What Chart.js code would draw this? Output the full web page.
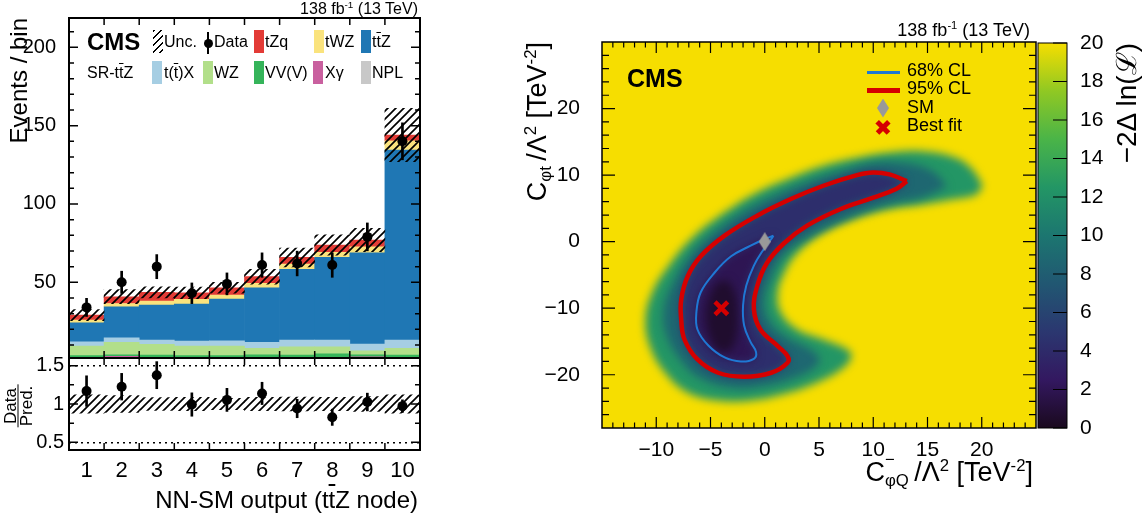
<!DOCTYPE html>
<html>
<head>
<meta charset="utf-8">
<title>CMS ttZ NN-SM output and EFT scan</title>
<script src="https://cdn.jsdelivr.net/npm/chart.js@4.4.1/dist/chart.umd.min.js"></script>
<style>
  body { margin: 0; width: 1146px; height: 521px; position: relative; overflow: hidden; background: #fff;
         font-family: 'Liberation Sans', Arial, Helvetica, sans-serif; color: #000; }
  canvas { position: absolute; }
  .t { position: absolute; white-space: nowrap; line-height: 1; font-size: 16px; }
  .sw { position: absolute; width: 10px; height: 23px; }
  .box { position: absolute; }
  sup, sub { font-size: 0.62em; position: relative; vertical-align: baseline; line-height: 0; }
  sup { top: -0.6em; }
  sub { top: 0.3em; }
  .ob { text-decoration: overline; }
  .rot { position: absolute; width: 400px; text-align: right; transform-origin: 0 0; transform: rotate(-90deg);
         white-space: nowrap; line-height: 1; }
  .frac { position: absolute; left: 18px; top: 406px; transform: translate(-50%, -50%) rotate(-90deg);
          font-size: 17px; text-align: center; white-space: nowrap; }
  .frac div { line-height: 15px; height: 15px; padding: 0 1px; }
</style>
</head>
<body>
<canvas id="mainChart" width="430" height="360" style="left:0;top:0"></canvas>
<canvas id="ratioChart" width="430" height="171" style="left:0;top:350px"></canvas>
<canvas id="scanChart" width="540" height="521" style="left:500px;top:0"></canvas>
<canvas id="zChart" width="116" height="521" style="left:1030px;top:0"></canvas>

<!-- left panel: labels and legend -->
<div class="t" style="right:728px;top:1px">138 fb<sup>-1</sup> (13 TeV)</div>
<div class="t" style="left:87px;top:30px;font-size:24px;font-weight:bold">CMS</div>
<div class="t" style="left:87px;top:65px">SR-t<span class="ob">t</span>Z</div>

<div class="sw" style="left:153px;top:30px;background:repeating-linear-gradient(135deg,#000 0 1.6px,transparent 1.6px 5px)"></div>
<div class="t" style="left:164px;top:34px">Unc.</div>
<div class="box" style="left:207px;top:32px;width:2px;height:22px;background:#000"></div>
<div class="box" style="left:203.5px;top:38.5px;width:9px;height:9px;border-radius:50%;background:#000"></div>
<div class="t" style="left:214px;top:34px">Data</div>
<div class="sw" style="left:254px;top:30px;background:#e33b36"></div>
<div class="t" style="left:265px;top:34px">tZq</div>
<div class="sw" style="left:314px;top:30px;background:#fae37d"></div>
<div class="t" style="left:325px;top:34px">tWZ</div>
<div class="sw" style="left:361px;top:30px;background:#1f77b4"></div>
<div class="t" style="left:372px;top:34px">t<span class="ob">t</span>Z</div>

<div class="sw" style="left:152px;top:61px;background:#a6cee3"></div>
<div class="t" style="left:164px;top:65px">t(<span class="ob">t</span>)X</div>
<div class="sw" style="left:203px;top:61px;background:#b2df8a"></div>
<div class="t" style="left:214px;top:65px">WZ</div>
<div class="sw" style="left:254px;top:61px;background:#35b45a"></div>
<div class="t" style="left:265px;top:65px">VV(V)</div>
<div class="sw" style="left:313px;top:61px;background:#c9609f"></div>
<div class="t" style="left:325px;top:65px">Xγ</div>
<div class="sw" style="left:361px;top:61px;background:#c8c8c8"></div>
<div class="t" style="left:372px;top:65px">NPL</div>

<div class="rot" style="left:7px;top:418px;font-size:24px">Events / bin</div>
<div class="frac">
  <div>Data</div>
  <div style="border-top:1.5px solid #000">Pred.</div>
</div>
<div class="t" style="right:728px;top:488px;font-size:24px">NN-SM output (t<span class="ob">t</span>Z node)</div>

<!-- right panel: labels and legend -->
<div class="t" style="right:116px;top:21px;font-size:18px">138 fb<sup>-1</sup> (13 TeV)</div>
<div class="t" style="left:627px;top:66px;font-size:25px;font-weight:bold">CMS</div>
<div class="box" style="left:867px;top:70.5px;width:33px;height:3px;background:#1f78d4"></div>
<div class="t" style="left:907px;top:60.5px;font-size:18px">68% CL</div>
<div class="box" style="left:867px;top:87.5px;width:33px;height:5px;background:#d50000"></div>
<div class="t" style="left:907px;top:79px;font-size:18px">95% CL</div>
<div class="box" style="left:877px;top:98.5px;width:12px;height:19px;background:#999;clip-path:polygon(50% 0,100% 50%,50% 100%,0 50%)"></div>
<div class="t" style="left:907px;top:97.5px;font-size:18px">SM</div>
<div class="box" style="left:874.5px;top:125px;width:16px;height:4.5px;background:#d50000;transform:rotate(45deg)"></div>
<div class="box" style="left:874.5px;top:125px;width:16px;height:4.5px;background:#d50000;transform:rotate(-45deg)"></div>
<div class="t" style="left:907px;top:115.5px;font-size:18px">Best fit</div>

<div class="rot" style="left:524px;top:442px;font-size:27px">C<sub>φt</sub>&thinsp;/Λ<sup>2</sup> [TeV<sup>-2</sup>]</div>
<div class="t" style="right:113px;top:459px;font-size:27px"><span style="position:relative">C<span style="position:absolute;left:100%;top:-0.3em;font-size:0.62em">&minus;</span></span><sub>φQ</sub>&thinsp;/Λ<sup>2</sup> [TeV<sup>-2</sup>]</div>
<div class="rot" style="left:1113px;top:443px;font-size:28px">&minus;2Δ ln(ℒ)</div>

<script>
// ---- histogram values (events per bin) ----
const bins    = ['1', '2', '3', '4', '5', '6', '7', '8', '9', '10'];
const npl     = [0.9, 1.1, 0.8, 1.0, 0.9, 1.0, 0.8, 1.1, 0.9, 1.0];
const xgamma  = [0.6, 1.6, 0.5, 0.6, 0.5, 0.6, 0.7, 0.6, 1.5, 0.6];
const vvv     = [1.7, 1.0, 2.2, 1.6, 1.8, 2.2, 2.0, 2.6, 1.3, 2.0];
const wz      = [6.1, 8.0, 6.9, 6.1, 6.1, 4.0, 5.4, 4.6, 2.6, 4.2];
const ttx     = [2.8, 2.9, 2.7, 3.2, 3.4, 3.9, 4.2, 4.2, 4.3, 5.3];
const ttz     = [12.1, 19.8, 22.4, 23.6, 26.6, 34.8, 45.2, 52.8, 58.3, 121.3];
const twz     = [1.7, 2.1, 2.5, 3.0, 2.6, 2.8, 3.3, 3.2, 3.8, 5.9];
const tzq     = [3.2, 4.3, 5.6, 4.2, 4.6, 4.3, 4.3, 4.7, 4.3, 3.7];
const obs     = [34, 50, 60, 43, 49, 61, 62, 61, 79, 140];
const obsErr  = [5.8, 7.1, 7.7, 6.6, 7.0, 7.8, 7.9, 7.8, 8.9, 11.8];
const predUnc = [3.5, 4.5, 3.6, 3.7, 3.5, 4.7, 6.0, 6.5, 7.5, 17.0];

// ---- likelihood scan, contours (x = C-phiQ, y = C-phit) ----
const bestFit = [-4.0, -10.0];
const smPoint = [0, 0];
const cl68 = [[0.8,0.9],[0,0.4],[-1.3,-0.6],[-3.1,-2.2],[-4.6,-4.6],[-5.9,-7.6],[-6.3,-10.6],[-6.2,-13.2],
  [-5.2,-15.6],[-3.7,-17.4],[-2.2,-18.0],[-1.0,-17.6],[-0.8,-16.6],[-1.3,-15.1],[-1.9,-12.6],[-2.0,-9.6],
  [-1.7,-6.6],[-1.0,-3.6],[-0.2,-1.4],[0.6,0.4],[0.8,0.9]];
const cl95 = [[13.1,9.1],[11.5,10.1],[10.0,10.4],[8.5,10.0],[5.4,8.4],[2.4,6.4],[-0.7,3.9],[-3.7,0.9],
  [-5.9,-2.2],[-7.1,-5.2],[-7.7,-8.7],[-7.7,-11.7],[-7.4,-14.7],[-6.2,-17.7],[-4.3,-19.7],[-1.9,-20.3],
  [0.6,-19.7],[2.1,-18.2],[2.1,-17.2],[1.2,-15.7],[-0.4,-13.2],[-1.0,-10.2],[-0.7,-6.7],[0.2,-3.2],
  [1.8,-0.2],[3.9,2.4],[7.0,4.9],[10.0,6.6],[12.1,7.9],[13.1,9.1]];
// edge of the saturated region (-2 delta lnL = 20)
const edge20 = [[20.1,8.4],[19.1,10.9],[17.6,12.6],[14.6,13.6],[11.5,13.4],[8.5,12.6],[5.4,11.4],[2.4,9.6],
  [-0.7,7.4],[-3.7,4.4],[-6.8,0.4],[-8.9,-3.7],[-10.4,-7.7],[-11.0,-11.7],[-10.6,-15.7],[-9.2,-19.7],
  [-7.1,-22.7],[-4.3,-23.9],[-1.3,-23.9],[1.8,-22.9],[4.8,-21.2],[7.3,-18.9],[8.0,-17.2],[7.6,-16.2],
  [5.4,-14.7],[3.0,-13.2],[1.5,-10.7],[1.2,-7.7],[1.8,-4.7],[3.0,-1.7],[5.4,1.4],[8.5,3.6],[11.5,4.9],
  [14.6,5.6],[17.6,6.4],[19.5,7.1],[20.1,8.4]];
// about -2 delta lnL = 10
const edge10 = [[16.8,8.3],[15.5,10.5],[13,11.8],[10,11.9],[7,10.6],[4,9.0],[1,7.0],[-2,4.5],[-5,1.0],
  [-7.0,-2.3],[-8.4,-6],[-9.3,-10],[-9.1,-14],[-7.7,-18],[-6,-20.5],[-3,-22],[0,-21.7],[3,-20.3],
  [4.8,-18.6],[5.0,-17.4],[4.0,-16.0],[2.0,-14.3],[0.5,-12.0],[0.0,-9.0],[0.6,-5.5],[1.8,-2.0],[4.3,0.8],
  [7.2,3.1],[9.5,4.6],[12,5.8],[14.5,6.6],[16.8,8.3]];
// darkest core around the best fit
const core = [[-3.4,-5.8],[-2.7,-8],[-2.5,-11],[-2.6,-14],[-3.2,-16.3],[-4.3,-16.3],[-5.1,-14],[-5.4,-11],
  [-5.0,-8],[-4.3,-6.2],[-3.4,-5.8]];
// typical -2 delta lnL inside each region: edge20, edge10, cl95, cl68, core
const regionValues = [12.5, 8.8, 4.3, 2.0, 0.6];
const zRange = [0, 20];

// ROOT kViridis palette
const viridis = [[26,9,30],[51,24,96],[43,55,112],[33,87,114],[28,118,112],[35,150,101],[74,180,72],[144,200,35],[246,222,0]];

Chart.defaults.font.family = "'Liberation Sans', Arial, Helvetica, sans-serif";
Chart.defaults.color = '#000';
Chart.defaults.animation = false;
Chart.defaults.layout.autoPadding = false;
Chart.defaults.plugins.legend.display = false;
Chart.defaults.plugins.tooltip.enabled = false;

const colors = { npl: '#c8c8c8', xg: '#c9609f', vvv: '#35b45a', wz: '#b2df8a', ttx: '#a6cee3',
                 ttz: '#1f77b4', twz: '#fae37d', tzq: '#e33b36' };

function zColor(v) {
  const f = Math.min(1, Math.max(0, (v - zRange[0]) / (zRange[1] - zRange[0]))) * (viridis.length - 1);
  const i = Math.min(viridis.length - 2, Math.floor(f)), t = f - i;
  const c = viridis[i].map((a, k) => Math.round(a + (viridis[i + 1][k] - a) * t));
  return 'rgb(' + c.join(',') + ')';
}

function makeHatch(size, width) {
  const c = document.createElement('canvas');
  c.width = size; c.height = size;
  const g = c.getContext('2d');
  g.strokeStyle = '#000';
  g.lineWidth = width;
  g.beginPath();
  g.moveTo(-1, size + 1); g.lineTo(size + 1, -1);
  g.moveTo(-1, 1); g.lineTo(1, -1);
  g.moveTo(size - 1, size + 1); g.lineTo(size + 1, size - 1);
  g.stroke();
  return g.createPattern(c, 'repeat');
}
const hatch = makeHatch(8, 1.7);

function tickList(from, to, step, len) {
  const out = [];
  for (let v = from; v <= to + 1e-9; v += step) out.push([+v.toFixed(4), len]);
  return out;
}
const minusFmt = v => (v < 0 ? '\u2212' + Math.abs(v) : String(v));
// fixed axis boxes, no label overhang padding
const fixWidth = w => s => { s.width = w; s.paddingTop = 0; s.paddingBottom = 0; };
const fixHeight = h => s => { s.height = h; s.paddingLeft = 0; s.paddingRight = 0; };

// inward ROOT-style ticks and the frame
const frameTicks = {
  id: 'frameTicks',
  afterDraw(chart, args, o) {
    const { ctx, chartArea: a } = chart;
    ctx.save();
    ctx.strokeStyle = '#000';
    ctx.lineWidth = o.tickWidth || 1;
    ctx.beginPath();
    for (const t of o.xTicks || []) {
      const px = chart.scales.x.getPixelForValue(t[0]);
      if (px < a.left - 0.5 || px > a.right + 0.5) continue;
      if (o.bottom) { ctx.moveTo(px, a.bottom); ctx.lineTo(px, a.bottom - t[1]); }
      if (o.top) { ctx.moveTo(px, a.top); ctx.lineTo(px, a.top + t[1]); }
    }
    for (const t of o.yTicks || []) {
      const py = chart.scales.y.getPixelForValue(t[0]);
      if (py < a.top - 0.5 || py > a.bottom + 0.5) continue;
      if (o.left) { ctx.moveTo(a.left, py); ctx.lineTo(a.left + t[1], py); }
      if (o.right) { ctx.moveTo(a.right, py); ctx.lineTo(a.right - t[1], py); }
    }
    ctx.stroke();
    if (o.frame) {
      ctx.lineWidth = o.frame;
      ctx.strokeRect(a.left, a.top, a.right - a.left, a.bottom - a.top);
    }
    ctx.restore();
  }
};

const total = bins.map((_, i) => [npl, xgamma, vvv, wz, ttx, ttz, twz, tzq].reduce((s, arr) => s + arr[i], 0));
const ratio = obs.map((v, i) => v / total[i]);
const binEdges = tickList(0.5, 8.5, 1, 7);

// ---- main stacked histogram ----
new Chart(document.getElementById('mainChart'), {
  type: 'bar',
  data: {
    labels: bins,
    datasets: [
      { type: 'line', label: 'Data', data: obs, showLine: false, pointRadius: 5, pointHoverRadius: 5,
        pointBackgroundColor: '#000', pointBorderWidth: 0, stack: 'data', order: 0 },
      { label: 'Data err', data: obs.map((v, i) => [v - obsErr[i], v + obsErr[i]]), backgroundColor: '#000',
        barThickness: 2, grouped: false, stack: 'err', order: 1 },
      { label: 'Unc.', data: total.map((t, i) => [t - predUnc[i], t + predUnc[i]]), backgroundColor: hatch,
        grouped: false, stack: 'unc', order: 2 },
      { label: 'NPL', data: npl, backgroundColor: colors.npl, stack: 'mc', order: 3 },
      { label: 'Xγ', data: xgamma, backgroundColor: colors.xg, stack: 'mc', order: 4 },
      { label: 'VV(V)', data: vvv, backgroundColor: colors.vvv, stack: 'mc', order: 5 },
      { label: 'WZ', data: wz, backgroundColor: colors.wz, stack: 'mc', order: 6 },
      { label: 't(t)X', data: ttx, backgroundColor: colors.ttx, stack: 'mc', order: 7 },
      { label: 'ttZ', data: ttz, backgroundColor: colors.ttz, stack: 'mc', order: 8 },
      { label: 'tWZ', data: twz, backgroundColor: colors.twz, stack: 'mc', order: 9 },
      { label: 'tZq', data: tzq, backgroundColor: colors.tzq, stack: 'mc', order: 10 }
    ]
  },
  options: {
    responsive: false,
    layout: { padding: { left: 0, right: 10, top: 18, bottom: 2 } },
    datasets: { bar: { barPercentage: 1, categoryPercentage: 1, borderWidth: 0 } },
    scales: {
      x: { stacked: true, display: false },
      y: {
        stacked: true, min: 1.7, max: 218.7,
        afterBuildTicks: s => { s.ticks = [50, 100, 150, 200].map(v => ({ value: v })); },
        afterFit: fixWidth(69),
        grid: { display: false }, border: { display: false },
        ticks: { font: { size: 20 }, padding: 5 }
      }
    },
    plugins: {
      frameTicks: {
        xTicks: binEdges, yTicks: tickList(10, 210, 10, 5).concat(tickList(50, 200, 50, 9)),
        bottom: true, top: true, left: true, right: true, frame: 2, tickWidth: 1.5
      }
    }
  },
  plugins: [frameTicks]
});

// ---- ratio panel ----
new Chart(document.getElementById('ratioChart'), {
  type: 'bar',
  data: {
    labels: bins,
    datasets: [
      { type: 'line', data: ratio, showLine: false, pointRadius: 5, pointHoverRadius: 5,
        pointBackgroundColor: '#000', pointBorderWidth: 0, order: 0 },
      { data: ratio.map((r, i) => [r - obsErr[i] / total[i], r + obsErr[i] / total[i]]), backgroundColor: '#000',
        barThickness: 2, grouped: false, order: 1 },
      { data: total.map((t, i) => [1 - predUnc[i] / t, 1 + predUnc[i] / t]), backgroundColor: hatch,
        grouped: false, order: 2 }
    ]
  },
  options: {
    responsive: false,
    layout: { padding: { left: 0, right: 10, top: 8, bottom: 0 } },
    datasets: { bar: { barPercentage: 1, categoryPercentage: 1, borderWidth: 0 } },
    scales: {
      x: {
        grid: { display: false }, border: { display: false },
        ticks: { font: { size: 22 }, padding: 0, maxRotation: 0, autoSkip: false },
        afterFit: fixHeight(71)
      },
      y: {
        min: 0.4, max: 1.6,
        afterBuildTicks: s => { s.ticks = [0.5, 1, 1.5].map(v => ({ value: v })); },
        afterFit: fixWidth(69),
        grid: { drawTicks: false, lineWidth: 1.5,
                color: c => (c.tick && c.tick.value !== 1) ? '#000' : 'rgba(0,0,0,0)' },
        border: { display: false, dash: [2, 4] },
        ticks: { font: { size: 20 }, padding: 5, callback: v => String(v) }
      }
    },
    plugins: {
      frameTicks: {
        xTicks: binEdges, yTicks: [[0.75, 5], [1.25, 5], [0.5, 9], [1, 9], [1.5, 9]],
        bottom: true, top: true, left: true, right: true, frame: 2, tickWidth: 1.5
      }
    }
  },
  plugins: [frameTicks]
});

// ---- likelihood scan ----
const xy = arr => arr.map(p => ({ x: p[0], y: p[1] }));
const smDiamond = (() => {
  const c = document.createElement('canvas');
  c.width = 12; c.height = 19;
  const g = c.getContext('2d');
  g.fillStyle = '#999';
  g.beginPath(); g.moveTo(6, 0); g.lineTo(12, 9.5); g.lineTo(6, 19); g.lineTo(0, 9.5); g.closePath(); g.fill();
  return c;
})();
const FILL_LAST = 4;
const scanShading = {
  id: 'scanShading',
  beforeDatasetsDraw(chart) {
    const { ctx, chartArea: a } = chart;
    ctx.save();
    ctx.fillStyle = zColor(zRange[1]);
    ctx.fillRect(a.left, a.top, a.right - a.left, a.bottom - a.top);
    ctx.restore();
    ctx.filter = 'blur(4px)';
  },
  afterDatasetDraw(chart, args) {
    if (args.index === FILL_LAST) chart.ctx.filter = 'none';
  }
};
const region = (pts, v, order) => ({
  data: xy(pts), fill: 'shape', backgroundColor: zColor(v), borderColor: 'rgba(0,0,0,0)', borderWidth: 0,
  pointRadius: 0, tension: 0.4, order
});

new Chart(document.getElementById('scanChart'), {
  type: 'line',
  data: {
    datasets: [
      { data: xy([bestFit]), showLine: false, pointStyle: 'crossRot', pointRadius: 9, pointBorderWidth: 4.5,
        pointBorderColor: '#d50000', order: 0 },
      { data: xy([smPoint]), showLine: false, pointStyle: smDiamond, pointRadius: 3, order: 1 },
      { data: xy(cl68), borderColor: '#1f78d4', borderWidth: 2, pointRadius: 0, fill: false, tension: 0.4, order: 2 },
      { data: xy(cl95), borderColor: '#d50000', borderWidth: 4.5, pointRadius: 0, fill: false, tension: 0.4, order: 3 },
      region(core, regionValues[4], 4),
      region(cl68, regionValues[3], 5),
      region(cl95, regionValues[2], 6),
      region(edge10, regionValues[1], 7),
      region(edge20, regionValues[0], 8)
    ]
  },
  options: {
    responsive: false,
    layout: { padding: { left: 0, right: 4, top: 42, bottom: 0 } },
    scales: {
      x: {
        type: 'linear', min: -15, max: 25,
        afterBuildTicks: s => { s.ticks = [-10, -5, 0, 5, 10, 15, 20].map(v => ({ value: v })); },
        afterFit: fixHeight(93),
        grid: { display: false }, border: { display: false },
        ticks: { font: { size: 21 }, padding: 2, maxRotation: 0, callback: minusFmt }
      },
      y: {
        type: 'linear', min: -28, max: 30,
        afterBuildTicks: s => { s.ticks = [-20, -10, 0, 10, 20].map(v => ({ value: v })); },
        afterFit: fixWidth(102),
        grid: { display: false }, border: { display: false },
        ticks: { font: { size: 21 }, padding: 14, callback: minusFmt }
      }
    },
    plugins: {
      frameTicks: {
        xTicks: tickList(-14, 24, 1, 5.5).concat(tickList(-10, 20, 5, 11)),
        yTicks: tickList(-26, 28, 2, 7).concat(tickList(-20, 20, 10, 13)),
        bottom: true, top: true, left: true, right: true, frame: 1.5, tickWidth: 1.2
      }
    }
  },
  plugins: [scanShading, frameTicks]
});

// ---- colour scale ----
new Chart(document.getElementById('zChart'), {
  type: 'bar',
  data: {
    labels: [''],
    datasets: [{
      data: [zRange],
      barPercentage: 1, categoryPercentage: 1, borderWidth: 0,
      backgroundColor: c => {
        const a = c.chart.chartArea;
        if (!a) return '#000';
        const g = c.chart.ctx.createLinearGradient(0, a.bottom, 0, a.top);
        viridis.forEach((col, i) => g.addColorStop(i / (viridis.length - 1), 'rgb(' + col.join(',') + ')'));
        return g;
      }
    }]
  },
  options: {
    responsive: false,
    layout: { padding: { left: 8, right: 0, top: 43, bottom: 93 } },
    scales: {
      x: { display: false },
      y: {
        position: 'right', min: zRange[0], max: zRange[1],
        afterBuildTicks: s => { s.ticks = tickList(0, 20, 2, 0).map(t => ({ value: t[0] })); },
        afterFit: fixWidth(79),
        grid: { display: false }, border: { display: false },
        ticks: { font: { size: 21 }, padding: 5 }
      }
    },
    plugins: {
      frameTicks: { yTicks: tickList(0, 20, 2, 14), right: true, frame: 1, tickWidth: 1.2 }
    }
  },
  plugins: [frameTicks]
});
</script>
</body>
</html>
